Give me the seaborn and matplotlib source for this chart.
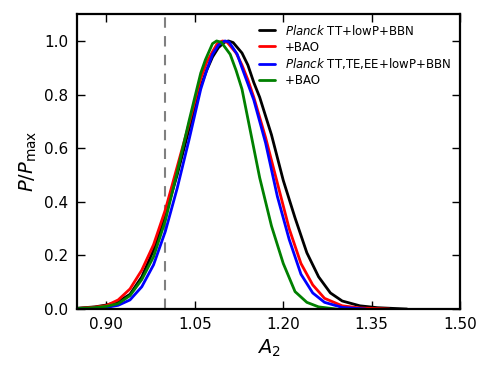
import numpy as np
import pandas as pd
import matplotlib
matplotlib.use("Agg")
import matplotlib.pyplot as plt
import seaborn as sns

# ocitane vrijednosti sa slike (P/Pmax za A_2)
x_tt = [0.85, 0.88, 0.90, 0.92, 0.94, 0.96, 0.98, 1.00, 1.02, 1.04, 1.06, 1.07, 1.08, 1.09,
        1.10, 1.107, 1.115, 1.13, 1.14, 1.15, 1.16, 1.18, 1.20, 1.22, 1.24, 1.26, 1.28,
        1.30, 1.33, 1.36, 1.41]
y_tt = [0.003, 0.008, 0.015, 0.027, 0.055, 0.12, 0.22, 0.35, 0.50, 0.67, 0.83, 0.89, 0.94, 0.975,
        0.995, 1.0, 0.994, 0.955, 0.91, 0.845, 0.79, 0.65, 0.48, 0.34, 0.21, 0.12, 0.06,
        0.03, 0.012, 0.005, 0.0]

x_tt_bao = [0.85, 0.88, 0.90, 0.92, 0.94, 0.96, 0.98, 1.00, 1.02, 1.04, 1.06, 1.07,
            1.08, 1.088, 1.097, 1.105, 1.12, 1.13, 1.14, 1.15, 1.17, 1.19, 1.21, 1.23, 1.25,
            1.27, 1.30, 1.33, 1.38]
y_tt_bao = [0.002, 0.007, 0.013, 0.034, 0.075, 0.145, 0.24, 0.37, 0.53, 0.69, 0.86, 0.92,
            0.96, 0.99, 1.0, 0.995, 0.955, 0.91, 0.855, 0.79, 0.64, 0.47, 0.30, 0.17, 0.09,
            0.04, 0.012, 0.004, 0.0]

x_all = [0.85, 0.88, 0.90, 0.92, 0.94, 0.96, 0.98, 1.00, 1.02, 1.04, 1.06, 1.07,
         1.08, 1.09, 1.101, 1.108, 1.122, 1.13, 1.14, 1.15, 1.17, 1.19, 1.21, 1.23, 1.25,
         1.27, 1.30, 1.34]
y_all = [0.001, 0.003, 0.006, 0.014, 0.034, 0.083, 0.165, 0.29, 0.45, 0.63, 0.82, 0.89,
         0.95, 0.985, 1.0, 0.996, 0.95, 0.90, 0.84, 0.78, 0.62, 0.42, 0.26, 0.13, 0.06,
         0.025, 0.006, 0.0]

x_all_bao = [0.85, 0.88, 0.90, 0.92, 0.94, 0.96, 0.98, 1.00, 1.02, 1.04, 1.06, 1.068, 1.08,
             1.087, 1.095, 1.11, 1.12, 1.13, 1.14, 1.16, 1.18, 1.20, 1.22, 1.24, 1.26, 1.29]
y_all_bao = [0.002, 0.005, 0.01, 0.02, 0.05, 0.11, 0.195, 0.33, 0.51, 0.70, 0.88, 0.93, 0.99,
             1.0, 0.995, 0.95, 0.89, 0.82, 0.71, 0.49, 0.31, 0.17, 0.065, 0.025, 0.008, 0.0]

labels = [r"$\mathit{Planck}$ TT+lowP+BBN", "+BAO",
          r"$\mathit{Planck}$ TT,TE,EE+lowP+BBN", "+BAO "]
boje = ["black", "red", "blue", "green"]

xticks = [0.90, 1.05, 1.20, 1.35, 1.50]
yticks = [0.0, 0.2, 0.4, 0.6, 0.8, 1.0]

serije = [(x_tt, y_tt), (x_tt_bao, y_tt_bao), (x_all, y_all), (x_all_bao, y_all_bao)]
df = pd.concat([pd.DataFrame({"A2": xs, "P": ys, "skup": lab})
                for (xs, ys), lab in zip(serije, labels)], ignore_index=True)

sns.set_style("ticks")
plt.rcParams["font.family"] = ["DejaVu Sans"]
plt.rcParams["mathtext.fontset"] = "dejavusans"
plt.rcParams["xtick.direction"] = "in"
plt.rcParams["ytick.direction"] = "in"
plt.rcParams["text.color"] = "black"
plt.rcParams["axes.labelcolor"] = "black"
plt.rcParams["xtick.color"] = "black"
plt.rcParams["ytick.color"] = "black"

fig = plt.figure(figsize=(4.9, 3.82), dpi=100)
ax = fig.add_axes([0.157, 0.191, 0.782, 0.772])

sns.lineplot(data=df, x="A2", y="P", hue="skup", palette=dict(zip(labels, boje)),
             estimator=None, sort=False, linewidth=2, ax=ax)
ax.axvline(1.0, color="gray", linestyle=(0, (5, 4)), linewidth=1.5, zorder=0)

ax.set_xlim(0.85, 1.50)
ax.set_ylim(0.0, 1.10)
ax.set_xticks(xticks)
ax.set_xticklabels([f"{t:.2f}" for t in xticks])
ax.set_yticks(yticks)
ax.set_yticklabels([f"{t:.1f}" for t in yticks])
ax.tick_params(axis="both", which="major", labelsize=11, length=6, width=1,
               top=True, right=True, colors="black", pad=6)
for s in ax.spines.values():
    s.set_linewidth(1.6)
    s.set_color("black")

ax.set_xlabel(r"$A_2$", fontsize=14)
ax.set_ylabel(r"$P/P_{\rm max}$", fontsize=14)

leg = ax.legend(loc="upper right", frameon=False, fontsize=8.5, handlelength=1.4,
                handletextpad=0.8, labelspacing=0.25, borderaxespad=0.4)
leg.set_title(None)

fig.savefig("out.png", dpi=100)
